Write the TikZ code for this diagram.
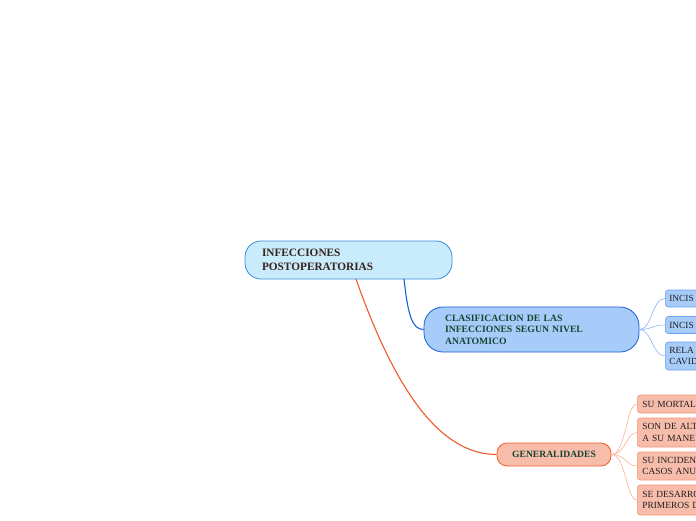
\documentclass[tikz,border=0pt]{standalone}
\usepackage{fontspec}
\setmainfont{Liberation Serif}
\definecolor{rootfill}{RGB}{200,236,252}
\definecolor{rootdraw}{RGB}{60,140,220}
\definecolor{bluefill}{RGB}{168,204,250}
\definecolor{bluedraw}{RGB}{25,95,215}
\definecolor{bluelight}{RGB}{110,160,240}
\definecolor{bluewire}{RGB}{140,180,245}
\definecolor{orfill}{RGB}{248,188,170}
\definecolor{ordraw}{RGB}{240,90,40}
\definecolor{orlight}{RGB}{245,150,120}
\definecolor{orwire}{RGB}{250,175,150}
\definecolor{txtbrown}{RGB}{55,35,25}
\definecolor{txtgreen}{RGB}{20,70,50}
\definecolor{txtdark}{RGB}{30,30,30}
\tikzset{
  rootbox/.style={draw=rootdraw, fill=rootfill, line width=0.8pt, rounded corners=16pt,
    minimum height=38pt, text width=173pt, inner xsep=17pt, align=left,
    font=\fontsize{11.3}{14}\selectfont\bfseries, text=txtbrown},
  classbox/.style={draw=bluedraw, fill=bluefill, line width=0.8pt, rounded corners=19pt,
    minimum height=45pt, text width=173pt, inner xsep=21pt, align=left,
    font=\fontsize{9.7}{11.5}\selectfont\bfseries, text=txtgreen},
  genbox/.style={draw=ordraw, fill=orfill, line width=0.8pt, rounded corners=10pt,
    minimum height=23pt, minimum width=114pt, inner sep=0pt, align=center,
    font=\fontsize{9.6}{11}\selectfont\bfseries, text=txtgreen},
  bleaf/.style={draw=bluelight, fill=bluefill, line width=0.6pt, rounded corners=3pt,
    text width=92pt, inner xsep=4pt, inner ysep=0pt, align=left, anchor=west,
    font=\fontsize{9.4}{11.5}\selectfont, text=txtdark},
  oleaf/.style={draw=orlight, fill=orfill, line width=0.6pt, rounded corners=3pt,
    text width=92pt, inner xsep=5pt, inner ysep=0pt, align=left, anchor=west,
    font=\fontsize{9.4}{11.5}\selectfont, text=txtdark},
  mainwire/.style={line width=1.1pt},
  leafwire/.style={line width=0.6pt}
}
\begin{document}
\begin{tikzpicture}[x=1pt,y=-1pt]
\useasboundingbox (0,0) rectangle (696,520);
\clip (0,0) rectangle (696,520);
% main nodes
\node[rootbox, minimum width=207pt] (root) at (348.5,260) {INFECCIONES\\POSTOPERATORIAS};
\node[classbox, minimum width=215pt] (class) at (531.5,329.5) {CLASIFICACION DE LAS\\INFECCIONES SEGUN NIVEL\\ANATOMICO};
\node[genbox] (gen) at (554,454.5) {GENERALIDADES};
% blue leaves
\node[bleaf, minimum height=17pt] (b1) at (665,298.5) {INCIS};
\node[bleaf, minimum height=17pt] (b2) at (665,325) {INCIS};
\node[bleaf, minimum height=28pt] (b3) at (665,356) {RELA\\CAVID};
% orange leaves
\node[oleaf, minimum height=18pt] (o1) at (637,404) {SU MORTAL};
\node[oleaf, minimum height=29pt] (o2) at (637,432.5) {SON DE ALT\\A SU MANE};
\node[oleaf, minimum height=28pt] (o3) at (637,466) {SU INCIDEN\\CASOS ANU};
\node[oleaf, minimum height=30pt] (o4) at (637,500) {SE DESARRO\\PRIMEROS D};
% main connectors
\coordinate (rb) at (404,279);
\coordinate (ro) at (356,279);
\draw[mainwire, draw=bluedraw] (rb) .. controls (408,315) and (412,329.5) .. (class.west);
\draw[mainwire, draw=ordraw] (ro) .. controls (395,390) and (440,454.5) .. (gen.west);
% leaf connectors
\foreach \n in {b1,b2,b3}
  \draw[leafwire, draw=bluewire] (class.east) .. controls (652,329.5) and (652,0|-\n.west) .. (\n.west);
\foreach \n in {o1,o2,o3,o4}
  \draw[leafwire, draw=orwire] (gen.east) .. controls (626,454.5) and (626,0|-\n.west) .. (\n.west);
\end{tikzpicture}
\end{document}
